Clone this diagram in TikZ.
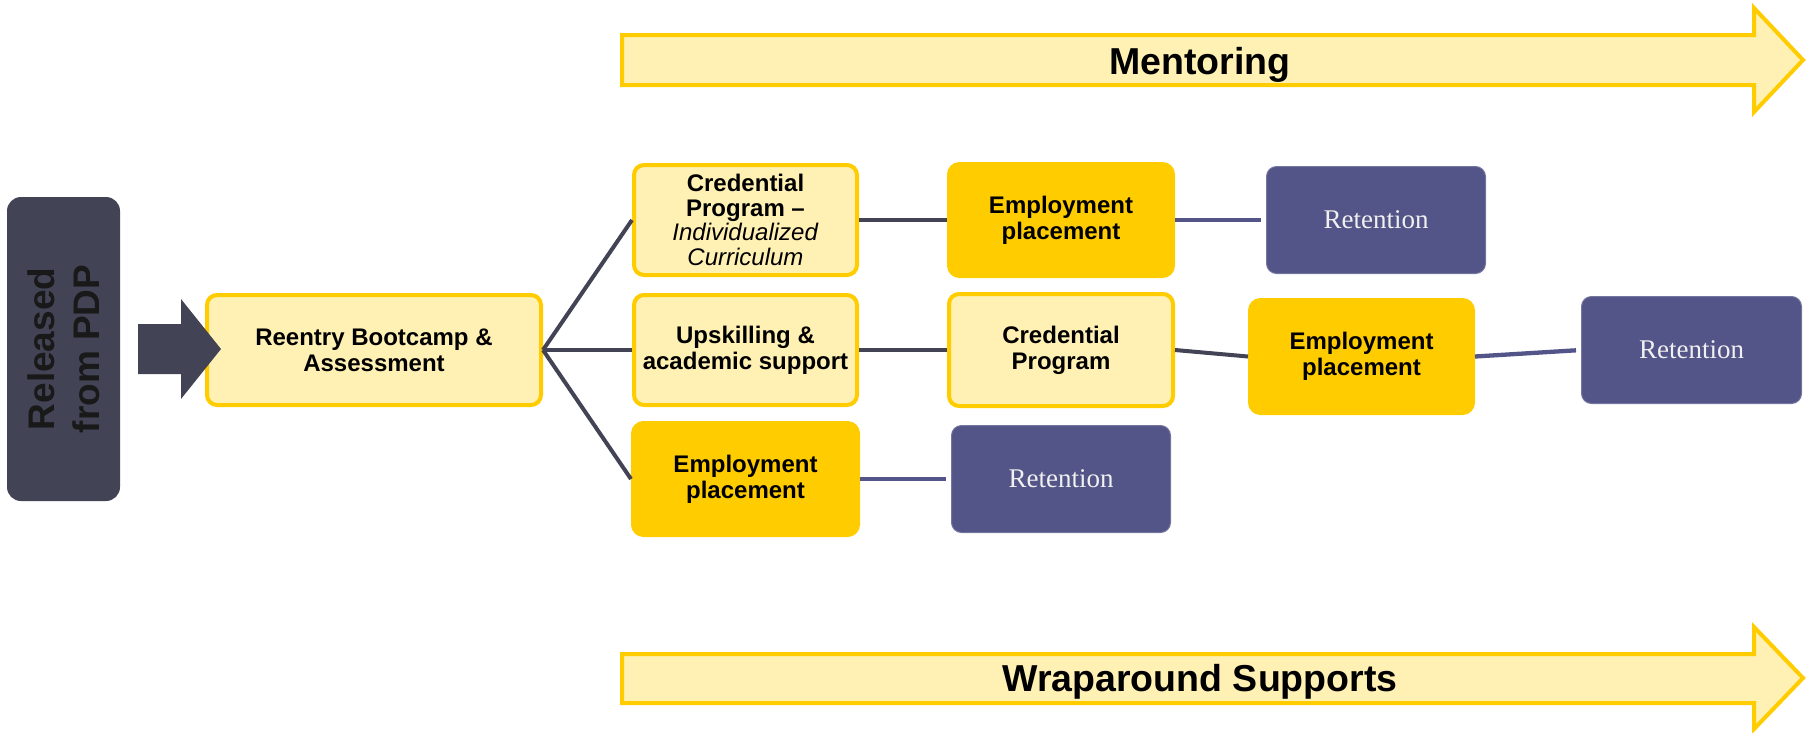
\documentclass[tikz,border=0pt]{standalone}
\usepackage{fontspec}
\setmainfont{Liberation Sans}
\newfontfamily\retfont{Liberation Serif}
\definecolor{lightyel}{HTML}{FFF0B3}
\definecolor{goldc}{HTML}{FFCC00}
\definecolor{slatec}{HTML}{434356}
\definecolor{retblue}{HTML}{535487}
\tikzset{
  lbox/.style={draw=goldc, fill=lightyel, line width=4pt, rounded corners=10pt,
    align=center, inner sep=0pt, text=black,
    font=\fontsize{24}{26}\selectfont\bfseries},
  gbox/.style={draw=goldc, fill=goldc, line width=1pt, rounded corners=12pt,
    align=center, inner sep=0pt, text=black,
    font=\fontsize{24}{26}\selectfont\bfseries},
  rbox/.style={draw=retblue!80!white, fill=retblue, line width=1pt, rounded corners=10pt,
    align=center, inner sep=0pt, text=white!94!black,
    font=\retfont\fontsize{27}{30}\selectfont},
  conn/.style={draw=slatec, line width=4pt},
  rconn/.style={draw=retblue, line width=4.3pt, shorten >=5pt},
  band/.style={fill=lightyel, draw=goldc, line width=4pt, line join=miter},
  bandtext/.style={anchor=base, font=\fontsize{37.5}{40}\selectfont\bfseries, text=black},
}
\begin{document}
\begin{tikzpicture}[x=1pt,y=-1pt]
\useasboundingbox (0,0) rectangle (1808,732);

% top and bottom bands
\draw[band] (622,35) -- (1754,35) -- (1754,8) -- (1803,60) -- (1754,112) -- (1754,85) -- (622,85) -- cycle;
\node[bandtext] (ment) at (1200,74.5) {Mentoring};
\draw[band] (622,654) -- (1754,654) -- (1754,627) -- (1803,678) -- (1754,729) -- (1754,703) -- (622,703) -- cycle;
\node[bandtext] (wrap) at (1200,691.5) {Wraparound Supports};

% released box
\node[fill=slatec, rounded corners=14pt, minimum width=304pt, minimum height=113pt,
  rotate=90, align=center, inner sep=0pt, text=black!90,
  font=\fontsize{37}{45}\selectfont\bfseries] (rel) at (63.5,349) {Released\\from PDP};

% boxes
\node[lbox, minimum width=334pt, minimum height=110pt] (reentry) at (374,350) {Reentry Bootcamp \&\\Assessment};
\node[lbox, minimum width=223pt, minimum height=110pt, font=\fontsize{24}{24.5}\selectfont] (cred1) at (745.5,220)
  {\textbf{Credential}\\\textbf{Program \textendash}\\\textit{Individualized}\\\textit{Curriculum}};
\node[lbox, minimum width=223pt, minimum height=110pt] (ups) at (745.5,350) {Upskilling \&\\academic support};
\node[gbox, minimum width=228pt, minimum height=115pt] (emp3) at (745.5,479) {Employment\\placement};
\node[gbox, minimum width=227pt, minimum height=115pt] (emp1) at (1061,220) {Employment\\placement};
\node[rbox, minimum width=219pt, minimum height=107pt] (ret1) at (1376,220) {Retention};
\node[lbox, minimum width=224pt, minimum height=112pt] (cred2) at (1061,350) {Credential\\Program};
\node[gbox, minimum width=226pt, minimum height=116pt] (emp2) at (1361.5,356.5) {Employment\\placement};
\node[rbox, minimum width=220pt, minimum height=107pt] (ret2) at (1691.5,350) {Retention};
\node[rbox, minimum width=219pt, minimum height=107pt] (ret3) at (1061,479) {Retention};

% block arrow from released to bootcamp
\fill[slatec] (138,324) -- (181,324) -- (181,299) -- (221,349) -- (181,399) -- (181,374) -- (138,374) -- cycle;

% connectors
\draw[conn] (reentry.east) -- (cred1.west);
\draw[conn] (reentry.east) -- (ups.west);
\draw[conn] (reentry.east) -- (emp3.west);
\draw[conn] (cred1.east) -- (emp1.west);
\draw[rconn] (emp1.east) -- (ret1.west);
\draw[conn] (ups.east) -- (cred2.west);
\draw[conn] (cred2.east) -- (emp2.west);
\draw[rconn] (emp2.east) -- (ret2.west);
\draw[rconn] (emp3.east) -- (ret3.west);
\end{tikzpicture}
\end{document}
